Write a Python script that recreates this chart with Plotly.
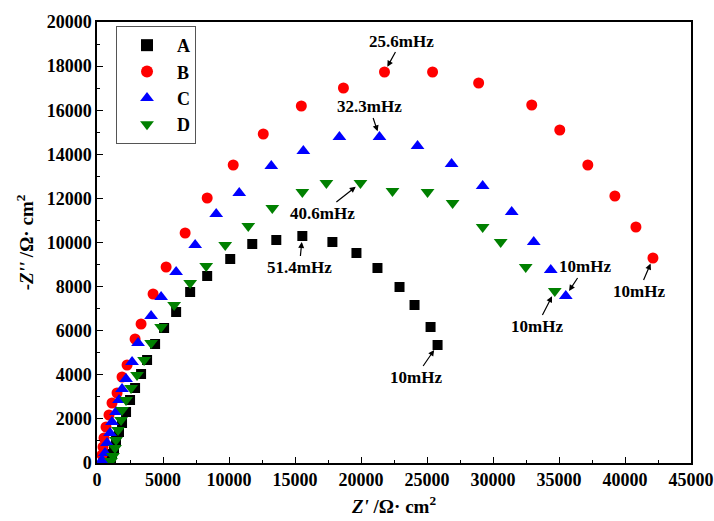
import plotly.graph_objects as go

# Series A (black squares)
a_x = [1062, 1138, 1290, 1442, 1669, 1897, 2201, 2504, 2884, 3339, 3794, 4401, 5084, 5995,
       7057, 8347, 10093, 11762, 13583, 15556, 17833, 19655, 21248, 22918, 24055, 25270, 25801]
a_y = [227, 408, 680, 998, 1406, 1814, 2313, 2857, 3401, 4036, 4671, 5397, 6122, 6848,
       7755, 8481, 9252, 9932, 10113, 10295, 10023, 9524, 8843, 7982, 7166, 6168, 5351]

# Series B (red circles)
b_x = [379, 455, 531, 683, 910, 1138, 1518, 1897, 2277, 2884, 3339, 4249, 5236, 6678, 8347,
       10320, 12597, 15480, 18668, 21779, 25422, 28913, 32934, 35059, 37184, 39233, 40827, 42116]
b_y = [363, 726, 1134, 1633, 2177, 2721, 3175, 3900, 4444, 5624, 6304, 7664, 8889, 10431, 12018,
       13515, 14921, 16190, 17007, 17732, 17732, 17234, 16236, 15102, 13515, 12109, 10703, 9297]

# Series C (blue up-triangles)
c_x = [379, 607, 759, 987, 1138, 1442, 1669, 1897, 2201, 2656, 3111, 4098, 4857, 5995, 7437,
       9030, 10776, 13204, 15632, 18364, 21400, 24283, 26863, 29216, 31417, 33086, 34376, 35514]
c_y = [136, 454, 907, 1361, 1859, 2313, 2857, 3356, 3809, 4580, 5442, 6667, 7528, 8662, 9887,
       11292, 12245, 13469, 14150, 14785, 14785, 14376, 13560, 12562, 11383, 10023, 8753, 7574]

# Series D (green down-triangles)
d_x = [1062, 1214, 1366, 1442, 1594, 1821, 1897, 2201, 2580, 3035, 3567, 4098, 4857, 5843, 7057,
       8272, 9713, 11459, 13280, 15556, 17378, 19958, 22386, 25042, 26939, 29216, 30582, 32479, 34680]
d_y = [91, 317, 680, 1043, 1497, 1950, 2404, 2857, 3401, 3991, 4671, 5442, 6168, 7166, 8163,
       8934, 9887, 10748, 11565, 12290, 12698, 12698, 12336, 12290, 11791, 10703, 10023, 8889, 7800]

series = [
    ("A", a_x, a_y, "square", "black", 10),
    ("B", b_x, b_y, "circle", "red", 11),
    ("C", c_x, c_y, "triangle-up", "blue", 12),
    ("D", d_x, d_y, "triangle-down", "green", 12),
]

# annotations: (text, x, y, ax, ay)
ann_list = [
    ("25.6mHz", 21779, 17732, 17, -31),
    ("32.3mHz", 21400, 14785, -10, -30),
    ("40.6mHz", 19958, 12698, -38, 30),
    ("51.4mHz", 15556, 10295, -3, 31),
    ("10mHz", 25801, 5351, -22, 32),
    ("10mHz", 42116, 9297, -14, 33),
    ("10mHz", 35514, 7574, 19, -29),
    ("10mHz", 34680, 7800, -18, 35),
]

FONT = "Liberation Serif"

fig = go.Figure()
for name, xs, ys, sym, col, sz in series:
    fig.add_trace(go.Scatter(
        x=xs, y=ys, mode="markers", name=name,
        marker=dict(symbol=sym, color=col, size=sz, line=dict(width=0)),
    ))

for text, x, y, ax, ay in ann_list:
    fig.add_annotation(
        x=x, y=y, ax=ax, ay=ay, text="<b>%s</b>" % text,
        showarrow=True, arrowhead=2, arrowsize=1, arrowwidth=1.2, arrowcolor="black",
        standoff=6, font=dict(family=FONT, size=17, color="black"),
    )

axis_common = dict(
    showline=True, linecolor="black", linewidth=1.5, mirror=True,
    ticks="inside", ticklen=6, tickcolor="black", tickwidth=1.2,
    showgrid=False, zeroline=False, tickformat="d", automargin=False,
    tickfont=dict(family=FONT, size=18, color="black", weight="bold"),
)

fig.update_xaxes(
    range=[0, 45000], dtick=5000, tick0=0,
    minor=dict(ticks="inside", dtick=2500, ticklen=3, tickcolor="black", tickwidth=1.2),
    title=dict(text="<b><i>Z'</i> /Ω· cm<sup>2</sup></b>",
               font=dict(family=FONT, size=19, color="black"), standoff=10),
    **axis_common,
)
fig.update_yaxes(
    range=[0, 20000], dtick=2000, tick0=0,
    minor=dict(ticks="inside", dtick=1000, ticklen=3, tickcolor="black", tickwidth=1.2),
    title=dict(text="<b>-<i>Z''</i> /Ω· cm<sup>2</sup></b>",
               font=dict(family=FONT, size=19, color="black"), standoff=8),
    **axis_common,
)

fig.update_layout(
    width=714, height=521,
    margin=dict(l=97, r=23, t=22, b=58),
    plot_bgcolor="white", paper_bgcolor="white",
    legend=dict(
        x=0.032, y=0.991, xanchor="left", yanchor="top",
        bgcolor="white", bordercolor="#555555", borderwidth=1,
        font=dict(family=FONT, size=18, color="black", weight="bold"),
        itemsizing="constant", tracegroupgap=0, itemwidth=50,
    ),
)

fig.write_html("out.html")
